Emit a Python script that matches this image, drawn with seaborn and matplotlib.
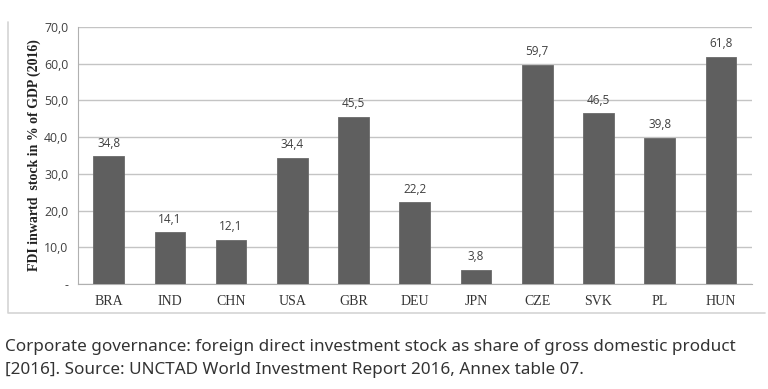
import matplotlib
matplotlib.use("Agg")
import matplotlib.pyplot as plt
import seaborn as sns
import pandas as pd
from matplotlib.lines import Line2D
from matplotlib.ticker import FuncFormatter

countries = ["BRA", "IND", "CHN", "USA", "GBR", "DEU", "JPN", "CZE", "SVK", "PL", "HUN"]
fdi_share = [34.8, 14.1, 12.1, 34.4, 45.5, 22.2, 3.8, 59.7, 46.5, 39.8, 61.8]
y_ticks = [0, 10, 20, 30, 40, 50, 60, 70]

df = pd.DataFrame({"country": countries, "fdi": fdi_share})

sns.set_style("white")
fig = plt.figure(figsize=(7.68, 3.89), dpi=100)
ax = fig.add_axes([0.1016, 0.27, 0.877, 0.6606])

# light frame (left and bottom edges) around the chart area
fx0, fx1 = 8 / 768, 765 / 768
fy0, fy1 = 1 - 313 / 389, 1 - 22 / 389
fig.lines.append(Line2D([fx0, fx0, fx1], [fy1, fy0, fy0], transform=fig.transFigure,
                        color="#d4d4d4", linewidth=1.2))

sns.barplot(data=df, x="country", y="fdi", color="#5f5f5f", width=0.5,
            edgecolor="#6a6a6a", linewidth=0.6, saturation=1, ax=ax, zorder=3)

for i, v in enumerate(fdi_share):
    ax.text(i, v + 1.8, f"{v:.1f}".replace(".", ","), ha="center", va="bottom",
            fontsize=8.5, color="#404040", family="Open Sans")

ax.set_ylim(0, 70)
ax.set_xlim(-0.5, 10.5)
ax.set_yticks(y_ticks)
ax.yaxis.set_major_formatter(FuncFormatter(lambda v, p: "-" if v == 0 else f"{v:.1f}".replace(".", ",")))
ax.grid(axis="y", color="#c4c4c4", linewidth=1.0, zorder=0)
for s in ["top", "right"]:
    ax.spines[s].set_visible(False)
ax.spines["left"].set_color("#b0b0b0")
ax.spines["bottom"].set_color("#b0b0b0")
ax.tick_params(axis="y", length=4, color="#b0b0b0", labelsize=8.8, labelcolor="#404040", pad=3)
ax.tick_params(axis="x", length=0, labelsize=10, labelcolor="#333333", pad=8)
for t in ax.get_yticklabels():
    t.set_family("Open Sans")
for t in ax.get_xticklabels():
    t.set_family("Liberation Serif")

ax.set_xlabel("")
ax.set_ylabel("FDI inwartd  stock in % of GDP (2016)", family="Liberation Serif",
              fontweight="bold", fontsize=10, color="#222222", labelpad=2)

fig.text(5 / 768, 1 - 347 / 389,
         "Corporate governance: foreign direct investment stock as share of gross domestic product",
         fontsize=12.3, family="Noto Sans", color="#333333", va="center")
fig.text(5 / 768, 1 - 370 / 389,
         "[2016]. Source: UNCTAD World Investment Report 2016, Annex table 07.",
         fontsize=12.3, family="Noto Sans", color="#333333", va="center")

fig.savefig("out.png", dpi=100)
